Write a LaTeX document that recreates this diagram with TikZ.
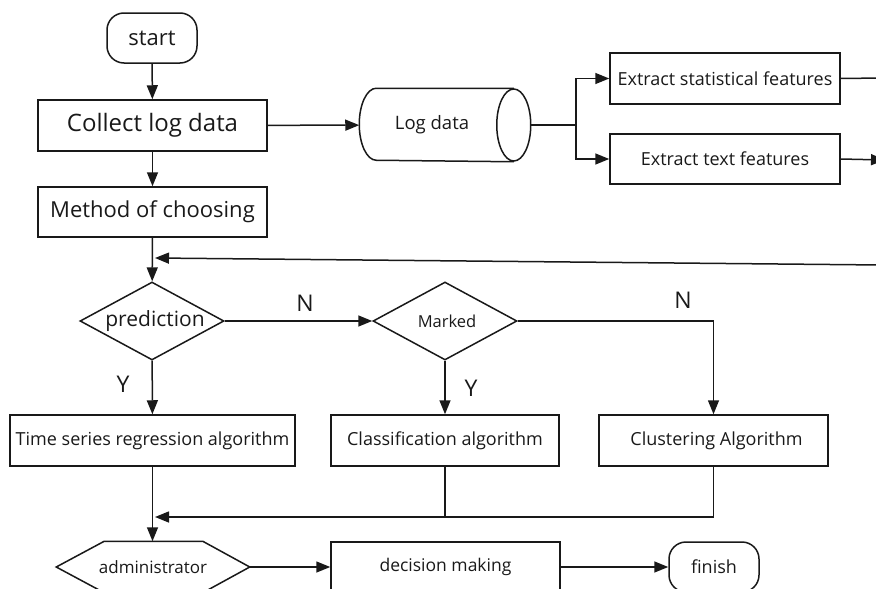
\documentclass[tikz,border=0pt]{standalone}
\usepackage{fontspec}
\setmainfont{Open Sans}
\usetikzlibrary{arrows.meta,shapes.geometric,calc}
\begin{document}
\begin{tikzpicture}[x=1pt,y=-1pt,line width=1.5pt,color={black!90},
  box/.style={draw,rectangle,inner sep=0pt,minimum width=#1,minimum height=51pt,font=\fontsize{18}{22}\selectfont},
  term/.style={draw,rectangle,rounded corners=17pt,inner sep=0pt,minimum width=90pt,minimum height=50pt},
  dia/.style={draw,diamond,inner sep=0pt,minimum width=144pt,minimum height=78pt},
  yn/.style={font=\fontsize{23}{26}\selectfont},
  arr/.style={-{Triangle[length=14pt,width=11pt]}}]
\useasboundingbox (0,0) rectangle (876,589);
\clip (0,0) rectangle (876,589);
% top column
\node[term,font=\fontsize{22}{26}\selectfont] (start) at (152,38) {start};
\node[box=229pt,font=\fontsize{24}{28}\selectfont] (collect) at (152.5,125.5) {Collect log data};
\node[box=229pt,minimum height=50pt,font=\fontsize{22}{26}\selectfont] (method) at (152.5,212) {Method of choosing};
% log data cylinder
\node[inner sep=0pt,minimum width=170pt,minimum height=72pt,font=\fontsize{18.5}{22}\selectfont] (log) at (445,125) {\hspace{-26pt}Log data};
\draw (log.north east) ++(-17,0) -- ($(log.north west)+(17,0)$) arc (270:90:17 and 36) -- ($(log.south east)+(-17,0)$);
\draw ($(log.east)+(-17,0)$) ellipse (17 and 36);
\coordinate (j) at (576,125);
\node[box=230pt] (stat) at (725,78.5) {Extract statistical features};
\node[box=230pt,minimum height=50pt] (text) at (725,159) {Extract text features};
\coordinate (sr) at (882,78);
\coordinate (tr) at (885,160);
\coordinate (fbr) at (882,265);
\coordinate (fbl) at (155,258);
% decisions
\node[dia] (pred) at (152,321) {\makebox[0pt]{\fontsize{21}{24}\selectfont\hspace{6pt}prediction}};
\node[dia] (marked) at (445,321) {\makebox[0pt]{\fontsize{16.5}{20}\selectfont\hspace{4pt}Marked}};
\node[box=285pt] (time) at (152.5,440.5) {Time series regression algorithm};
\node[box=228pt] (class) at (445,440.5) {Classification algorithm};
\node[box=229pt] (clust) at (713.5,440.5) {\hspace{6pt}Clustering Algorithm};
\node[yn] (n1) at (305,303) {N};
\node[yn] (y1) at (123,384) {Y};
\node[yn] (y2) at (471,388) {Y};
\node[yn] (n2) at (683,300) {N};
\coordinate (mg) at (155,517);
% bottom row
\node[inner sep=0pt,minimum width=192pt,minimum height=50pt,font=\fontsize{17}{20}\selectfont] (adm) at (153,567) {administrator};
\draw (adm.west) -- ($(adm.north west)+(48,0)$) -- ($(adm.north east)+(-47,0)$) -- (adm.east)
  -- ($(adm.south east)+(-47,0)$) -- ($(adm.south west)+(48,0)$) -- cycle;
\node[box=229pt,minimum height=50pt,font=\fontsize{17.5}{20}\selectfont] (dec) at (445.5,567) {\raisebox{3pt}{decision making}};
\node[term,font=\fontsize{18}{22}\selectfont] (fin) at (714,567) {finish};
% connectors
\draw[arr] (start) -- (collect);
\draw[arr] (collect) -- (log);
\draw[arr] (collect) -- (method);
\draw (log.east) -- (j);
\draw[arr] (j) |- (stat.west);
\draw[arr] (j) |- (text.west);
\draw (stat.east) -- (sr);
\draw[arr] (text.east) -- (tr);
\draw[arr] (method) -- (pred);
\draw[arr] (fbr) -- (fbl);
\draw[arr] (pred) -- (marked);
\draw[arr] (pred) -- (time);
\draw[arr] (marked) -- (class);
\draw[arr] (marked.east) -| (clust.north);
\draw[arr] (clust.south) |- (mg);
\draw (class.south) -- (class.south |- mg);
\draw[arr] (time.south) -- (time.south |- adm.north);
\draw[arr] (adm.east) -- (dec.west);
\draw[arr] (dec) -- (fin);
\end{tikzpicture}
\end{document}
